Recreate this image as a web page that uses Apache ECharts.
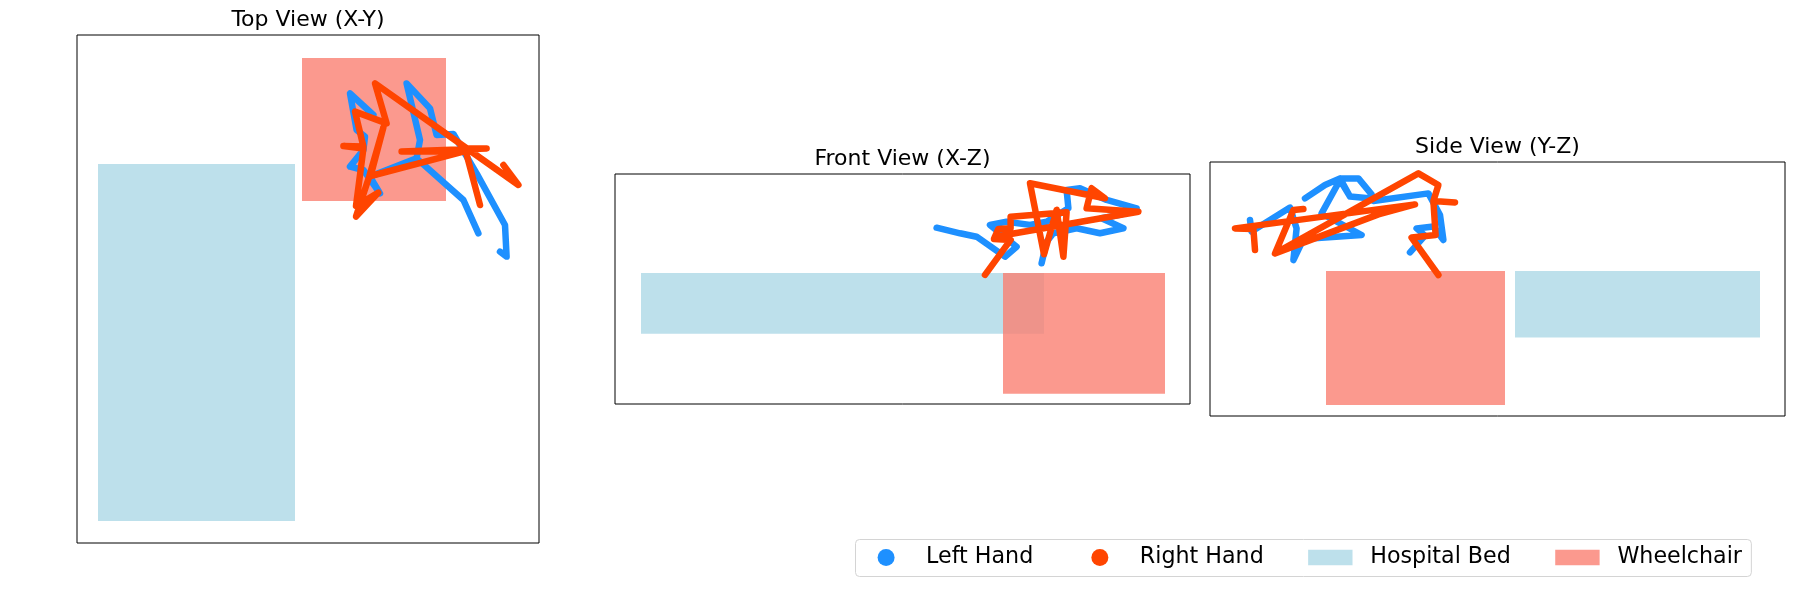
<!DOCTYPE html>
<html>
<head>
<meta charset="utf-8">
<title>Hand trajectories – three views</title>
<script src="https://cdn.jsdelivr.net/npm/echarts@6/dist/echarts.min.js"></script>
<style>
  html, body { margin: 0; padding: 0; background: #ffffff; }
  #chart { width: 1800px; height: 600px; }
</style>
</head>
<body>
<div id="chart"></div>
<script>
// ---------------- data (metres, per view) ----------------
const viewTitles = ['Top View (X-Y)', 'Front View (X-Z)', 'Side View (Y-Z)'];
const legendNames = ['Left Hand', 'Right Hand', 'Hospital Bed', 'Wheelchair'];

// obstacles: [min horizontal, max horizontal, min vertical, max vertical]
const topBed = [0, 0.985, 0, 1.785];
const topChair = [1.02, 1.74, 1.60, 2.315];
const frontBed = [0, 2.015, 0.30, 0.604];
const frontChair = [1.81, 2.62, 0, 0.604];
const sideChair = [0, 0.895, 0, 0.67];
const sideBed = [0.945, 2.17, 0.337, 0.67];

// Top view (X, Y)
const topLeftHand = [
  [1.377, 2.03], [1.26, 2.138], [1.293, 1.955], [1.335, 1.922], [1.327, 1.855],
  [1.26, 1.772], [1.327, 1.755], [1.41, 1.638], [1.36, 1.722], [1.593, 1.813],
  [1.827, 1.605], [1.902, 1.438], [1.827, 1.605], [1.593, 1.813], [1.61, 1.905],
  [1.543, 2.188], [1.66, 2.063], [1.693, 1.93], [1.777, 1.935], [1.893, 1.738],
  [2.035, 1.48], [2.043, 1.322], [2.01, 1.347]
];
const topRightHand = [
  [2.027, 1.78], [2.102, 1.68], [1.827, 1.875], [1.385, 2.188], [1.443, 1.988],
  [1.285, 2.047], [1.327, 1.872], [1.227, 1.875], [1.327, 1.862], [1.29, 1.575],
  [1.402, 1.642], [1.29, 1.522], [1.357, 1.725], [1.427, 1.968], [1.363, 1.725],
  [1.827, 1.847], [1.518, 1.847], [1.943, 1.863], [1.835, 1.863], [1.91, 1.58]
];

// Front view (X, Z)
const frontLeftHand = [
  [1.478, 0.83], [1.595, 0.802], [1.678, 0.785], [1.82, 0.685], [1.878, 0.735],
  [1.745, 0.844], [1.828, 0.86], [1.945, 0.844], [2.028, 0.86], [2.137, 0.927],
  [2.128, 1.019], [2.195, 1.027], [2.328, 0.969], [2.478, 0.927], [2.395, 0.894],
  [2.303, 0.877], [2.412, 0.827], [2.295, 0.802], [2.178, 0.827], [2.062, 0.802],
  [2.028, 0.76], [2.003, 0.652]
];
const frontRightHand = [
  [1.72, 0.594], [1.848, 0.769], [1.765, 0.774], [1.787, 0.824], [1.848, 0.827],
  [1.848, 0.885], [2.128, 0.907], [2.112, 0.685], [2.078, 0.919], [2.015, 0.697],
  [1.945, 1.052], [2.32, 0.977], [2.253, 1.027], [2.228, 0.927], [2.487, 0.91],
  [1.77, 0.785]
];

// Side view (Y, Z)
const sideLeftHand = [
  [0.42, 0.763], [0.495, 0.847], [0.453, 0.883], [0.537, 0.892], [0.587, 0.825],
  [0.57, 0.95], [0.512, 1.058], [0.237, 1.02], [0.228, 1.053], [0.162, 1.133],
  [0.07, 1.133], [-0.005, 1.10], [-0.105, 1.033], [-0.005, 1.10], [0.07, 1.133],
  [0.12, 1.042], [0.228, 1.033], [0.12, 1.042], [0.07, 1.125], [-0.022, 0.958],
  [0.178, 0.85], [-0.113, 0.83], [-0.163, 0.725], [-0.147, 0.883], [-0.18, 0.987],
  [-0.372, 0.867], [-0.38, 0.925]
];
const sideRightHand = [
  [0.562, 0.65], [0.428, 0.837], [0.548, 0.85], [0.537, 1.02], [0.645, 1.013],
  [0.537, 1.02], [0.562, 1.10], [0.462, 1.158], [-0.255, 0.758], [-0.163, 0.975],
  [-0.113, 0.98], [-0.163, 0.975], [-0.255, 0.758], [0.262, 0.953], [0.445, 1.003],
  [-0.455, 0.883], [-0.363, 0.88], [-0.355, 0.775]
];

// axis limits per view: [xmin, xmax, ymin, ymax]
const topLimits = [-0.105, 2.205, -0.11, 2.43];
const frontLimits = [-0.13, 2.745, -0.0515, 1.0985];
const sideLimits = [-0.58, 2.295, -0.055, 1.215];

// ---------------- layout / style ----------------
const FONT = 'DejaVu Sans';
const FONT_PX = 22.2;
const COLORS = {
  left: '#1E90FF',
  right: '#FF4500',
  bed: 'rgba(173,216,230,0.8)',
  chair: 'rgba(250,128,114,0.8)'
};
const LINE_W = 6.5;
const grids = [
  { left: 77, top: 35, width: 462, height: 508 },
  { left: 615, top: 174, width: 575, height: 230 },
  { left: 1210, top: 162, width: 575, height: 254 }
];
const LEGEND_BOX = { left: 855, top: 539, height: 37 };

const views = [
  { limits: topLimits, bed: topBed, chair: topChair, l: topLeftHand, r: topRightHand },
  { limits: frontLimits, bed: frontBed, chair: frontChair, l: frontLeftHand, r: frontRightHand },
  { limits: sideLimits, bed: sideBed, chair: sideChair, l: sideLeftHand, r: sideRightHand }
];

function rectItem(params, api) {
  const p0 = api.coord([api.value(0), api.value(3)]);
  const p1 = api.coord([api.value(1), api.value(2)]);
  return {
    type: 'rect',
    shape: { x: p0[0], y: p0[1], width: p1[0] - p0[0], height: p1[1] - p0[1] },
    style: api.style()
  };
}

const xAxes = [], yAxes = [], series = [], graphics = [];
views.forEach((v, i) => {
  const hidden = { axisLine: { show: false }, axisTick: { show: false },
                   axisLabel: { show: false }, splitLine: { show: false } };
  xAxes.push(Object.assign({ type: 'value', gridIndex: i, min: v.limits[0], max: v.limits[1] }, hidden));
  yAxes.push(Object.assign({ type: 'value', gridIndex: i, min: v.limits[2], max: v.limits[3] }, hidden));

  series.push({
    type: 'custom', name: 'Hospital Bed', xAxisIndex: i, yAxisIndex: i,
    renderItem: rectItem, encode: { x: [0, 1], y: [2, 3] },
    itemStyle: { color: COLORS.bed }, data: [v.bed], silent: true, z: 1
  });
  series.push({
    type: 'custom', name: 'Wheelchair', xAxisIndex: i, yAxisIndex: i,
    renderItem: rectItem, encode: { x: [0, 1], y: [2, 3] },
    itemStyle: { color: COLORS.chair }, data: [v.chair], silent: true, z: 2
  });
  series.push({
    type: 'line', name: 'Left Hand', xAxisIndex: i, yAxisIndex: i,
    data: v.l, symbol: 'none', showSymbol: false, silent: true, z: 3,
    itemStyle: { color: COLORS.left },
    lineStyle: { color: COLORS.left, width: LINE_W, cap: 'round', join: 'round' }
  });
  series.push({
    type: 'line', name: 'Right Hand', xAxisIndex: i, yAxisIndex: i,
    data: v.r, symbol: 'none', showSymbol: false, silent: true, z: 4,
    itemStyle: { color: COLORS.right },
    lineStyle: { color: COLORS.right, width: LINE_W, cap: 'round', join: 'round' }
  });

  const g = grids[i];
  graphics.push({
    type: 'text',
    x: g.left + g.width / 2,
    y: g.top - 8 - 6.6,
    style: {
      text: viewTitles[i], fill: '#000', font: '22px "' + FONT + '"',
      align: 'center', verticalAlign: 'middle'
    }
  });
});

// ---------------- legend (matplotlib-like spacing) ----------------
(function buildLegend() {
  const ctx = document.createElement('canvas').getContext('2d');
  const font = FONT_PX + 'px "' + FONT + '"';
  ctx.font = font;
  const em = FONT_PX;
  const pad = 0.4 * em, handle = 2 * em, textPad = 0.8 * em, colSp = 2 * em;
  const cy = LEGEND_BOX.top + LEGEND_BOX.height / 2;
  const kinds = ['marker', 'marker', 'patch', 'patch'];
  const colors = [COLORS.left, COLORS.right, COLORS.bed, COLORS.chair];
  const items = [];
  let x = LEGEND_BOX.left + pad;
  legendNames.forEach((name, k) => {
    if (kinds[k] === 'marker') {
      items.push({ type: 'circle', shape: { cx: x + handle / 2, cy: cy, r: 8.5 },
                   style: { fill: colors[k] }, z: 101 });
    } else {
      const h = 0.7 * em;
      items.push({ type: 'rect', shape: { x: x, y: cy - h / 2, width: handle, height: h },
                   style: { fill: colors[k] }, z: 101 });
    }
    const tx = x + handle + textPad;
    items.push({ type: 'text', x: tx, y: cy, z: 101,
                 style: { text: name, font: font, fill: '#000', align: 'left', verticalAlign: 'middle' } });
    const w = ctx.measureText(name).width;
    x = tx + w + colSp;
  });
  const right = x - colSp + pad;
  graphics.push({
    type: 'rect', z: 100,
    shape: { x: LEGEND_BOX.left + 0.5, y: LEGEND_BOX.top + 0.5,
             width: right - LEGEND_BOX.left, height: LEGEND_BOX.height, r: 4 },
    style: { fill: 'rgba(255,255,255,0.8)', stroke: '#d4d4d4', lineWidth: 1 }
  });
  items.forEach(it => graphics.push(it));
})();

const chart = echarts.init(document.getElementById('chart'), null, { renderer: 'canvas' });
chart.setOption({
  animation: false,
  backgroundColor: '#ffffff',
  textStyle: { fontFamily: FONT },
  grid: grids.map(g => Object.assign({ show: true, borderColor: '#000', borderWidth: 1,
                                       backgroundColor: '#fff', containLabel: false }, g)),
  xAxis: xAxes,
  yAxis: yAxes,
  graphic: graphics,
  series: series
});
</script>
</body>
</html>
